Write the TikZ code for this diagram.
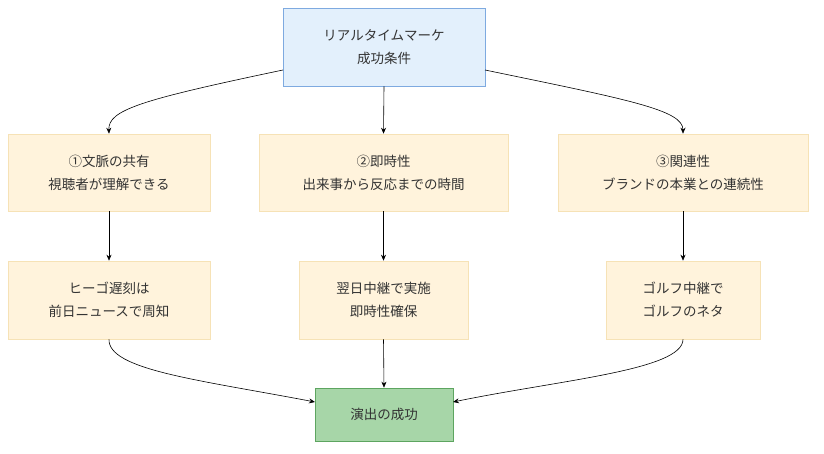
\documentclass[tikz,border=0pt]{standalone}
\usepackage{fontspec}
\usetikzlibrary{arrows.meta}
\setmainfont{Noto Sans CJK JP}
\definecolor{bfill}{HTML}{E3F0FC}
\definecolor{bdraw}{HTML}{7EAAE0}
\definecolor{yfill}{HTML}{FFF3DC}
\definecolor{ydraw}{HTML}{F6E2B6}
\definecolor{gfill}{HTML}{A7D6A8}
\definecolor{gdraw}{HTML}{5DA560}
\begin{document}
\begin{tikzpicture}[x=1pt,y=-1pt,
  box/.style={draw=#1,line width=0.6pt,align=center,font=\fontsize{13.5}{23}\selectfont,text=black!80,inner sep=0pt},
  arr/.style={-{Stealth[length=6pt,width=5pt]},line width=0.6pt}]
\useasboundingbox (0,0) rectangle (824,454);
\node[box=bdraw,fill=bfill,minimum width=202pt,minimum height=78pt] (t) at (384,47) {リアルタイムマーケ\\成功条件};
\tikzset{y1/.style={box=ydraw,fill=yfill,minimum height=77pt}}
\node[y1,minimum width=202pt] (a) at (109,172.5) {①文脈の共有\\視聴者が理解できる};
\node[y1,minimum width=249pt] (b) at (383.5,172.5) {②即時性\\出来事から反応までの時間};
\node[y1,minimum width=250pt] (c) at (683,172.5) {③関連性\\ブランドの本業との連続性};
\node[y1,minimum width=202pt,minimum height=78pt] (a2) at (109,300) {ヒーゴ遅刻は\\前日ニュースで周知};
\node[y1,minimum width=169pt,minimum height=78pt] (b2) at (383.5,300) {翌日中継で実施\\即時性確保};
\node[y1,minimum width=154pt,minimum height=78pt] (c2) at (683,300) {ゴルフ中継で\\ゴルフのネタ};
\node[box=gdraw,fill=gfill,minimum width=138pt,minimum height=53pt] (e) at (384,414.5) {演出の成功};
\coordinate (el) at (315,402);
\coordinate (er) at (453,402);
\draw[arr] (283,70) .. controls (140,100) and (108,110) .. (a.north);
\draw[arr] (t.south) -- (b.north);
\draw[arr] (485,70) .. controls (630,100) and (683,110) .. (c.north);
\draw[arr] (a.south) -- (a2.north);
\draw[arr] (b.south) -- (b2.north);
\draw[arr] (c.south) -- (c2.north);
\draw[arr] (a2.south) .. controls (108,370) and (200,380) .. (el);
\draw[arr] (b2.south) -- (e.north);
\draw[arr] (c2.south) .. controls (683,370) and (560,380) .. (er);
\end{tikzpicture}
\end{document}
